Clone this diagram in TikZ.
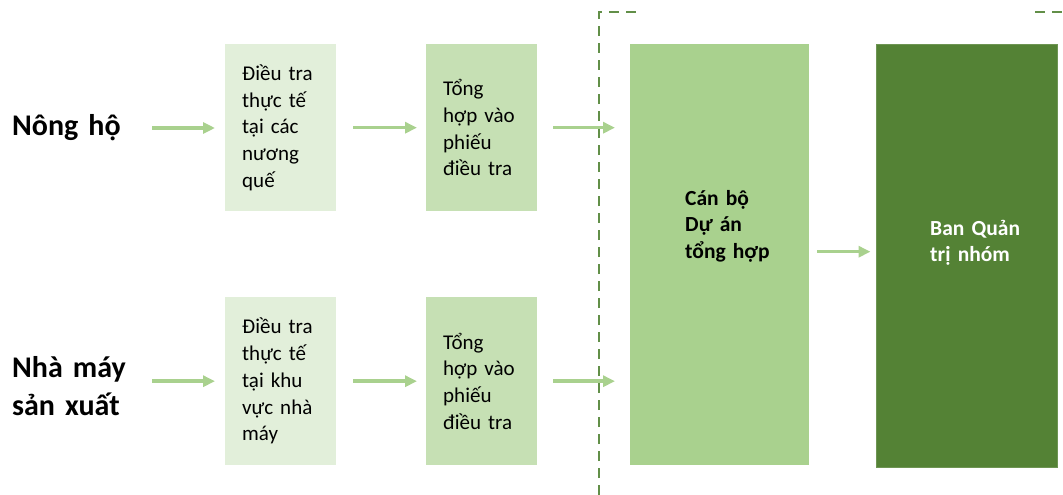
\documentclass[tikz,border=0pt]{standalone}
\usepackage{fontspec}
\setmainfont{Carlito}[Script=Latin, Language=Vietnamese]
\usetikzlibrary{arrows.meta}

\definecolor{paleG}{HTML}{E2EFDA}
\definecolor{softG}{HTML}{C6E0B4}
\definecolor{midG}{HTML}{A9D18E}
\definecolor{deepG}{HTML}{548235}
\definecolor{lineG}{HTML}{628F48}

\begin{document}
\begin{tikzpicture}[x=1pt, y=-1pt,
    title/.style={font=\fontsize{30}{38}\selectfont\bfseries, align=left, text width=120pt, inner sep=0pt, anchor=west},
    box/.style={minimum width=111pt, text width=77pt, inner xsep=17pt, align=left, anchor=north west, font=\fontsize{21}{26.7}\selectfont},
    flow/.style={midG, line width=3.5pt, -{Triangle[length=12pt, width=11pt]}},
    fence/.style={lineG, line width=1.8pt, dash pattern=on 10pt off 7pt}]
    \useasboundingbox (0,0) rectangle (1063,495);

    \node[title] (nong) at (12,128) {Nông hộ};
    \node[title] (nhamay) at (12,386) {Nhà máy\\sản xuất};

    \node[box, fill=paleG, minimum height=167pt] (dt1) at (225,44) {Điều tra\\thực tế\\tại các\\nương\\quế};
    \node[box, fill=softG, minimum height=167pt] (th1) at (426,44) {Tổng\\hợp vào\\phiếu\\điều tra};
    \node[box, fill=paleG, minimum height=168pt] (dt2) at (225,297) {Điều tra\\thực tế\\tại khu\\vực nhà\\máy};
    \node[box, fill=softG, minimum height=168pt] (th2) at (426,297) {Tổng\\hợp vào\\phiếu\\điều tra};

    \node[fill=midG, minimum width=179pt, minimum height=421pt, inner sep=0pt, anchor=north west] (canbo) at (630,44) {};
    \node[fill=deepG, draw=deepG!85!white, line width=1pt, minimum width=181pt, minimum height=422pt, inner sep=0pt, anchor=north west] (ban) at (875.5,44.5) {};

    \node[font=\fontsize{21.5}{26.5}\selectfont\bfseries, align=left, text width=110pt, inner sep=0pt, anchor=base west] (canbotxt) at (685,205) {Cán bộ\\Dự án\\tổng hợp};
    \node[font=\fontsize{21.5}{26.5}\selectfont\bfseries, text=white, align=left, text width=110pt, inner sep=0pt, anchor=base west] (bantxt) at (930,235) {Ban Quản\\trị nhóm};

    % dashed frame round the project side
    \draw[fence] (599,495) -- (599,12) -- (640,12);
    \draw[fence] (1035,12) -- (1063,12);

    \draw[flow, shorten <=20pt, shorten >=10pt] (nong.east) -- (nong.east -| dt1.west);
    \draw[flow, shorten <=20pt, shorten >=10pt] (nhamay.east |- dt2.west) -- (dt2.west);
    \draw[flow, shorten <=17pt, shorten >=9pt] (dt1.east) -- (th1.west);
    \draw[flow, shorten <=17pt, shorten >=9pt] (dt2.east) -- (th2.west);
    \draw[flow, shorten <=16pt, shorten >=15pt] (th1.east) -- (th1.east -| canbo.west);
    \draw[flow, shorten <=16pt, shorten >=15pt] (th2.east) -- (th2.east -| canbo.west);
    \draw[flow, shorten <=8pt, shorten >=5pt] ([yshift=3pt]canbo.east) -- ([yshift=3pt]canbo.east -| ban.west);
\end{tikzpicture}
\end{document}
